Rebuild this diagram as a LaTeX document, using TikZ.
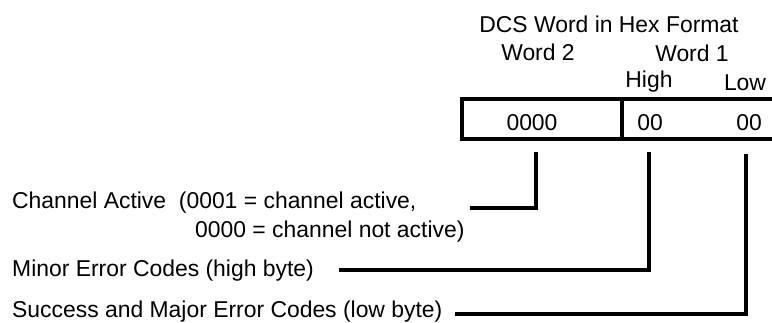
\documentclass[tikz,border=0pt]{standalone}
\usepackage{fontspec}
\setmainfont{Liberation Sans}
\begin{document}
\begin{tikzpicture}[x=1pt,y=-1pt,
  lbl/.style={inner sep=0pt,font=\fontsize{22.9}{27}\selectfont},
  conn/.style={line width=3.2pt},
  boxline/.style={line width=3.2pt}]
\useasboundingbox (0,0) rectangle (772,322);
% header texts
\node[lbl,anchor=base] (title) at (609,32) {DCS Word in Hex Format};
\node[lbl,anchor=base] (w2) at (538,60) {Word 2};
\node[lbl,anchor=base] (w1) at (692,61) {Word 1};
\node[lbl,anchor=base] (hi) at (649,87) {High};
\node[lbl,anchor=base] (lo) at (745,90) {Low};
% word box
\draw[boxline] (462,99) rectangle (776,139);
\draw[boxline] (622,99) -- (622,139);
\node[lbl,anchor=base] (v2) at (532,130) {0000};
\node[lbl,anchor=base] (vh) at (650,130) {00};
\node[lbl,anchor=base] (vl) at (749,130) {00};
% descriptions
\node[lbl,anchor=base west] (ch1) at (12,208) {Channel Active\ \ (0001 = channel active,};
\node[lbl,anchor=base west] (ch2) at (195,237) {0000 = channel not active)};
\node[lbl,anchor=base west] (mi) at (12,276) {Minor Error Codes (high byte)};
\node[lbl,anchor=base west] (su) at (12,317) {Success and Major Error Codes (low byte)};
% connector ends
\coordinate (chS) at (470,208);
\coordinate (chT) at (536,152);
\coordinate (miS) at (339,270);
\coordinate (miT) at (649,152);
\coordinate (suS) at (455,314);
\coordinate (suT) at (746,154);
\draw[conn] (chS) -| (chT);
\draw[conn] (miS) -| (miT);
\draw[conn] (suS) -| (suT);
\end{tikzpicture}
\end{document}
